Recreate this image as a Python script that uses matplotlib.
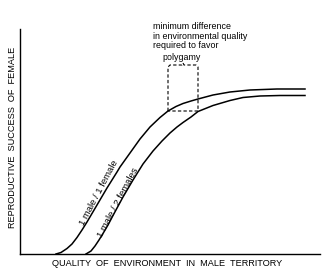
import matplotlib
matplotlib.use("Agg")
import matplotlib.pyplot as plt

# curve points (x: environment quality, y: reproductive success)
mono_x = [36, 41, 47, 52, 57, 62, 67, 77, 87, 97, 100, 110, 120, 130, 140, 148,
          156, 163, 171, 178, 193, 210, 230, 257, 285]
mono_y = [0, 1.5, 5.5, 10, 16.5, 24, 32, 49, 66, 82, 87, 101, 115, 127, 136.5, 143,
          147.5, 150.5, 153, 155, 159, 162, 164, 165, 165]
poly_x = [66, 71, 75, 79, 83, 88, 93, 103, 113, 123, 133, 142, 150, 157, 163, 171, 178,
          193, 210, 223, 240, 260, 285]
poly_y = [0, 3, 8, 14, 20.5, 29, 38.5, 57, 74, 90, 103, 113, 121, 127, 131.5, 137, 142.5,
          148.5, 153.5, 156.5, 158, 158.5, 158.5]

# threshold box: quality where the two curves give equal success
box_x = [148, 178]
box_y = [143, 189]

note_lines = ["minimum difference", "in environmental quality", "required to favor"]
note_last = "polygamy"
xlabel = "QUALITY  OF  ENVIRONMENT  IN  MALE  TERRITORY"
ylabel = "REPRODUCTIVE  SUCCESS  OF  FEMALE"

plt.rcParams["font.family"] = ["Liberation Sans", "DejaVu Sans"]

fig = plt.figure(figsize=(3.25, 2.7), dpi=100)
ax = fig.add_axes([20 / 325, 16 / 270, 300 / 325, 225 / 270])
ax.set_xlim(0, 300)
ax.set_ylim(0, 225)
for s in ["top", "right"]:
    ax.spines[s].set_visible(False)
for s in ["left", "bottom"]:
    ax.spines[s].set_linewidth(1.0)
ax.set_xticks([])
ax.set_yticks([])

ax.plot(mono_x, mono_y, color="black", lw=1.1, solid_joinstyle="round")
ax.plot(poly_x, poly_y, color="black", lw=1.1, solid_joinstyle="round")

# dashed bracket
bx0, bx1 = box_x
by0, by1 = box_y
mid = (bx0 + bx1) / 2
ax.plot([bx0, bx0, bx0 + 2, mid - 1, mid, mid + 1, bx1 - 2, bx1, bx1, bx0],
        [by0, by1 - 2, by1, by1, by1 + 2, by1, by1, by1 - 2, by0, by0],
        color="black", lw=0.8, ls=(0, (3, 2)))

ax.text(133, 232, "\n".join(note_lines), fontsize=6.4, va="top", ha="left",
        linespacing=1.1, clip_on=False)
ax.text(mid - 1, 192, note_last, fontsize=6.4, ha="center", va="bottom")

ax.text(79, 61, "1 male / 1 female", fontsize=6.8, rotation=62,
        ha="center", va="center", rotation_mode="anchor")
ax.text(98, 51, "1 male / 2 females", fontsize=6.8, rotation=62,
        ha="center", va="center", rotation_mode="anchor")

ax.set_xlabel(xlabel, fontsize=6.6)
ax.set_ylabel(ylabel, fontsize=6.6)
ax.yaxis.set_label_coords(-0.010, 0.52)
ax.xaxis.set_label_coords(0.49, -0.02)

fig.savefig("out.png", dpi=100)
